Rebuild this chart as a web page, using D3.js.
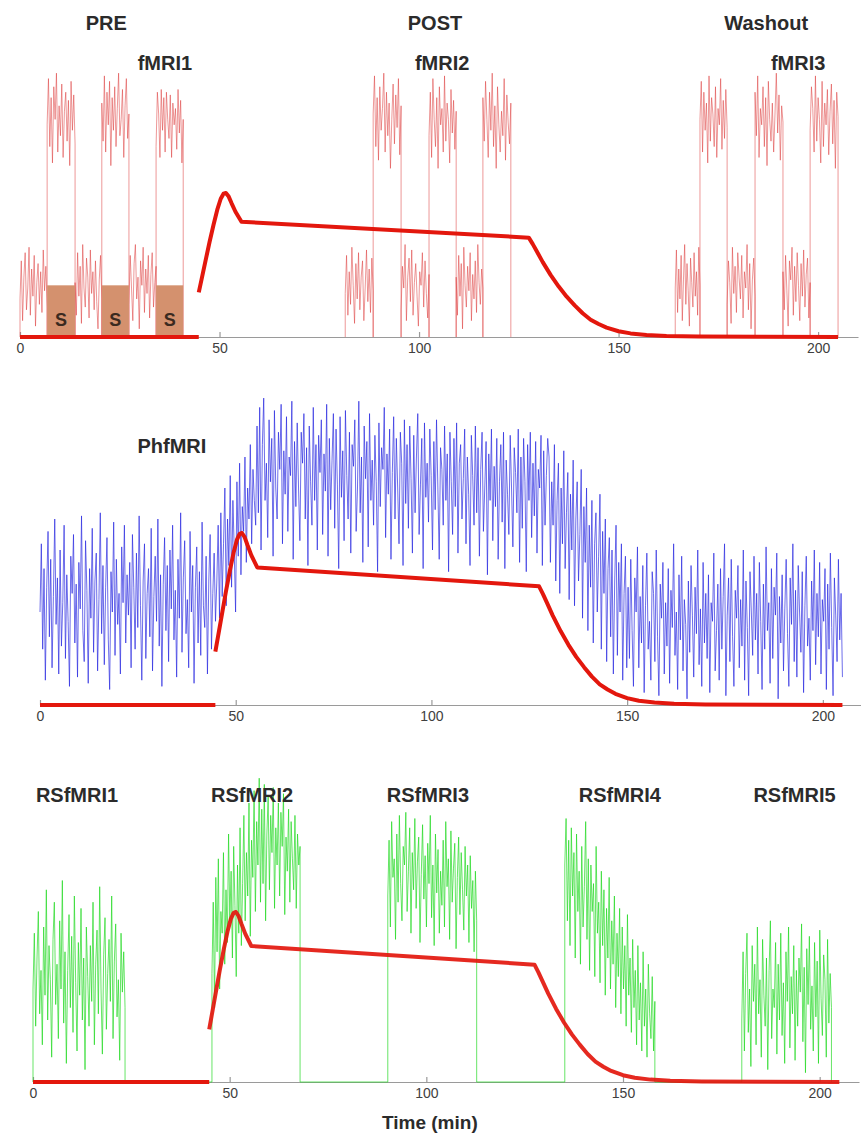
<!DOCTYPE html>
<html lang="en">
<head>
<meta charset="UTF-8">
<title>fMRI / PhfMRI / RSfMRI timeline</title>
<script src="https://d3js.org/d3.v7.min.js"></script>
<style>
  body { margin: 0; background: #fff; }
  svg { display: block; }
  .lbl { font-family: "Liberation Sans", Arial, sans-serif; font-weight: bold; font-size: 20px; fill: #2b2b2b; text-anchor: middle; }
  .axis text { font-family: "Liberation Sans", Arial, sans-serif; font-size: 14px; fill: #404040; }
  .axis path, .axis line { stroke: #9a9a9a; stroke-width: 1.2; }
</style>
</head>
<body>
<div id="chart"></div>
<script>
// ---------------- data ----------------
const tickValues = [0, 50, 100, 150, 200];

// drug concentration (normalised to peak), shared by all three panels
const pkBaseEnd = 44.8;
const pkTime = [44.8, 45.5, 46.5, 47.5, 48.5, 49.5, 50.3, 51, 51.6, 52.3, 53, 54, 55.5,
  127.5, 128.5, 129.5, 131, 133, 135, 137, 139, 141, 143, 145, 147, 150, 153, 157, 162, 170, 185, 205];
const pkConc = [0.31, 0.40, 0.53, 0.66, 0.78, 0.89, 0.96, 0.995, 1.0, 0.975, 0.93, 0.87, 0.80,
  0.69, 0.645, 0.595, 0.52, 0.43, 0.35, 0.28, 0.22, 0.165, 0.12, 0.09, 0.065, 0.04, 0.025, 0.014, 0.007, 0.003, 0.001, 0];

// task fMRI: block edges (min) and signal per block (a.u.), rest / stim alternating
const fmri1Edges = [0, 6.8, 13.8, 20.5, 27.3, 34.1, 40.9];
const fmri1Blocks = [
  [14, 28, 6, 22, 31, 10, 18, 33, 8, 25, 15, 30, 4, 20, 27, 12, 24, 9, 32, 17, 26, 11],
  [78, 95, 70, 88, 64, 92, 80, 97, 68, 85, 74, 93, 66, 83, 90, 72, 87, 63, 94, 76, 89, 71],
  [20, 8, 31, 15, 26, 5, 34, 18, 11, 29, 22, 7, 32, 16, 24, 10, 28, 13, 3, 21, 30, 14],
  [86, 72, 96, 68, 90, 78, 94, 63, 88, 76, 92, 70, 84, 97, 74, 80, 91, 66, 85, 95, 73, 82],
  [12, 30, 18, 6, 27, 34, 14, 22, 3, 28, 19, 33, 9, 25, 16, 30, 7, 23, 31, 11, 20, 26],
  [70, 90, 82, 66, 91, 76, 88, 68, 90, 80, 73, 89, 66, 86, 78, 84, 69, 91, 75, 87, 64, 80]
];
const fmri2Edges = [81.5, 88.5, 95.5, 102.5, 109.3, 116, 123];
const fmri2Blocks = [
  [16, 30, 8, 24, 12, 33, 19, 5, 27, 14, 31, 10, 22, 28, 6, 18, 32, 13, 25, 9, 29, 17],
  [82, 96, 70, 88, 65, 92, 76, 84, 97, 68, 90, 74, 86, 62, 80, 93, 71, 89, 77, 95, 67, 85],
  [10, 26, 18, 34, 6, 22, 29, 13, 32, 8, 20, 27, 15, 4, 24, 19, 31, 11, 28, 16, 7, 23],
  [74, 90, 66, 95, 80, 70, 88, 62, 92, 78, 84, 68, 96, 72, 86, 80, 64, 91, 75, 87, 69, 83],
  [22, 8, 30, 15, 27, 3, 33, 19, 11, 26, 17, 31, 6, 23, 14, 28, 9, 34, 20, 12, 25, 18],
  [88, 72, 94, 80, 66, 90, 76, 97, 70, 85, 62, 92, 78, 68, 83, 74, 95, 65, 89, 79, 71, 86]
];
const fmri3Edges = [164.2, 170.4, 177.2, 184.2, 191.2, 198, 205];
const fmri3Blocks = [
  [18, 32, 9, 25, 14, 30, 6, 21, 34, 12, 27, 17, 4, 29, 20, 11, 31, 15, 24, 8, 33, 19],
  [80, 94, 68, 90, 76, 86, 64, 96, 72, 88, 82, 70, 92, 66, 84, 78, 95, 69, 87, 73, 91, 77],
  [12, 28, 20, 5, 33, 16, 26, 9, 31, 22, 14, 30, 7, 24, 18, 34, 10, 27, 3, 21, 29, 15],
  [90, 74, 96, 66, 84, 78, 92, 70, 88, 63, 94, 80, 72, 86, 68, 82, 97, 75, 89, 65, 85, 79],
  [24, 10, 30, 17, 4, 28, 21, 33, 8, 26, 13, 31, 19, 6, 27, 15, 32, 11, 23, 29, 7, 20],
  [76, 92, 84, 68, 96, 72, 88, 80, 64, 94, 70, 86, 78, 91, 67, 83, 93, 71, 87, 62, 90, 81]
];
// stimulation periods ("S") during fMRI1
const stimBlocks = [[6.8, 13.8], [20.5, 27.3], [34.1, 40.9]];
const stimLevel = 19;

// PhfMRI: continuous acquisition from 0 to 205 min (a.u.)
const phStart = 0, phEnd = 205;
const phValues = [
  // baseline
  30, 52, 18, 44, 8, 38, 56, 22, 47, 12, 35, 60,
  26, 41, 10, 50, 19, 33, 58, 15, 42, 27, 6, 48,
  36, 55, 20, 39, 9, 46, 31, 61, 24, 14, 53, 37,
  7, 44, 28, 57, 17, 40, 49, 11, 34, 62, 23, 45,
  13, 38, 54, 21, 5, 43, 30, 59, 16, 47, 26, 36,
  10, 51, 33, 58, 20, 42, 29, 46, 12, 55, 38, 18,
  49, 25, 61, 32, 8, 40, 52, 15, 36, 44, 22, 57,
  11, 35, 48, 27, 60, 19, 42, 6, 39, 54, 24, 45,
  14, 50, 31, 58, 21, 37, 9, 47, 28, 62, 17, 41,
  53, 23, 34, 12, 56, 30, 45, 7, 38, 51, 20, 43,
  16, 59, 32, 25, 48, 10, 40, 55, 18, 36, 49, 27,
  // rise
  40, 58, 28, 62, 35, 52, 70, 32, 60, 45, 74, 38, 66, 50, 30,
  72, 48, 78, 42, 64, 56, 80, 46, 70, 60, 84, 52, 76, 66,
  // post
  58, 90, 62, 96, 50, 84, 99, 66, 78, 54, 92, 72,
  86, 48, 95, 70, 60, 88, 76, 97, 52, 82, 68, 93,
  56, 80, 74, 98, 47, 85, 64, 91, 70, 53, 88, 78,
  94, 60, 83, 45, 90, 72, 58, 96, 66, 84, 50, 87,
  75, 92, 55, 81, 69, 97, 48, 86, 63, 79, 94, 57,
  89, 71, 44, 93, 67, 82, 53, 95, 74, 60, 88, 49,
  84, 77, 92, 56, 70, 98, 62, 80, 46, 90, 73, 85,
  51, 94, 66, 79, 58, 87, 72, 43, 91, 64, 83, 76,
  96, 54, 81, 68, 89, 47, 75, 93, 60, 86, 70, 52,
  88, 78, 45, 92, 65, 84, 57, 90, 73, 49, 87, 62,
  80, 94, 55, 71, 86, 44, 91, 67, 78, 59, 89, 74,
  50, 85, 63, 92, 70, 47, 83, 76, 58, 90, 66, 81,
  43, 88, 72, 55, 86, 64, 91, 49, 78, 84, 60, 73,
  89, 52, 80, 68, 45, 87, 74, 58, 90, 62, 83, 48,
  76, 88, 56, 70, 85, 42, 81, 66, 89, 53, 77, 64,
  86, 47, 72, 84, 59, 88, 44, 79, 68, 55, 87, 70,
  51, 83, 75, 62, 89, 46, 80, 57, 86, 72, 43, 84,
  66, 88, 54, 78, 61, 85, 49, 76, 70, 87, 45, 82,
  58, 74, 86,
  // decline
  80, 46, 72, 58, 84, 40, 66, 78, 36, 70, 52, 82,
  44, 62, 75, 34, 68, 50, 79, 32, 60, 72, 40, 55,
  76, 28, 64, 46, 70, 24, 58, 38, 66, 20, 52, 62,
  30, 48, 68, 18, 56, 36, 60, 14, 44, 54, 22, 50,
  10, 40, 58, 16, 46, 30, 52, 8, 36, 48, 12,
  // washout
  38, 15, 47, 24, 6, 41, 30, 51, 12, 35, 20, 45,
  4, 32, 49, 18, 27, 8, 43, 36, 14, 50, 22, 3,
  39, 28, 46, 10, 33, 19, 44, 7, 37, 25, 52, 16,
  30, 5, 42, 21, 48, 11, 34, 26, 2, 40, 17, 45,
  29, 9, 38, 23, 50, 13, 31, 6, 46, 20, 36, 15,
  42, 4, 33, 27, 49, 11, 24, 39, 8, 44, 18, 35,
  52, 3, 29, 41, 14, 47, 22, 6, 37, 28, 45, 12,
  34, 19, 50, 8, 40, 25, 3, 43, 30, 16, 48, 21,
  36, 10, 46, 27, 5, 39, 18, 51, 24, 33, 7, 44,
  15, 38, 29, 49, 2, 35, 20, 42, 11, 31, 47, 23,
  6, 41, 26, 52, 14, 37, 9, 45, 30, 17, 43, 4,
  32, 48, 19, 28, 8, 40, 24, 50, 13, 36, 22, 46,
  10, 34, 27, 44, 5, 39, 18, 49, 25, 3, 41, 29,
  14, 47, 21, 36, 9
];

// resting-state scans: start/end (min) and signal (a.u.)
const rsEdges = [[0, 23.4], [45.5, 67.9], [90.2, 112.8], [135.2, 158.1], [180.2, 203]];
const rs1 = [30, 48, 18, 40, 55, 22, 36, 12, 50, 28, 62, 20, 44, 33, 8, 46, 58, 25, 38, 14,
  52, 30, 65, 19, 42, 6, 36, 54, 24, 47, 16, 60, 32, 10, 45, 28, 56, 20, 40, 4,
  50, 34, 18, 44, 26, 58, 12, 38, 49, 22, 63, 30, 9, 41, 53, 17, 35, 46, 26, 60,
  14, 39, 51, 21, 33, 7, 48, 29, 42, 24];
const rs2 = [35, 58, 24, 66, 42, 72, 30, 55, 48, 74, 38, 62, 45, 80, 52, 68, 40, 76, 57, 34,
  70, 48, 82, 44, 64, 86, 52, 74, 60, 90, 47, 78, 66, 94, 55, 84, 70, 98, 58, 88,
  64, 96, 52, 80, 92, 62, 86, 74, 95, 56, 82, 70, 90, 60, 87, 76, 93, 54, 79, 68,
  88, 58, 84, 72, 62, 86, 56, 80, 70, 76];
const rs3 = [60, 78, 50, 84, 66, 72, 46, 80, 58, 86, 64, 52, 76, 70, 87, 55, 68, 82, 48, 74,
  62, 85, 56, 71, 79, 45, 67, 83, 59, 73, 50, 77, 64, 86, 53, 70, 44, 80, 61, 75,
  48, 68, 57, 78, 50, 84, 63, 72, 46, 81, 58, 69, 77, 43, 66, 79, 54, 74, 62, 49,
  76, 60, 70, 45, 73, 56, 65, 42, 68, 52];
const rs4 = [70, 85, 52, 78, 44, 82, 60, 74, 40, 80, 55, 68, 38, 76, 50, 63, 84, 46, 72, 36,
  70, 55, 64, 34, 76, 48, 58, 32, 68, 44, 62, 28, 56, 40, 66, 30, 52, 38, 60, 24,
  48, 34, 56, 22, 50, 30, 44, 18, 54, 28, 40, 16, 46, 24, 36, 12, 44, 20, 32, 10,
  42, 18, 30, 8, 38, 22, 14, 34, 10, 26];
const rs5 = [20, 42, 10, 35, 48, 16, 30, 5, 44, 26, 38, 12, 50, 22, 33, 8, 46, 28, 18, 40,
  4, 36, 52, 14, 30, 24, 45, 9, 38, 20, 48, 15, 32, 6, 42, 26, 50, 11, 34, 22,
  44, 7, 36, 18, 40, 29, 51, 13, 37, 3, 43, 25, 47, 17, 31, 10, 45, 21, 39, 6,
  49, 27, 15, 41, 33, 8, 46, 19, 35, 24];
const rsScans = [rs1, rs2, rs3, rs4, rs5];

// text labels (time at label centre)
const phaseLabels = [["PRE", 21.6], ["POST", 104], ["Washout", 187]];
const fmriLabels = [["fMRI1", 36.3], ["fMRI2", 105.8], ["fMRI3", 195]];
const phLabel = ["PhfMRI", 33.7];
const rsLabels = [["RSfMRI1", 11.2], ["RSfMRI2", 55.7], ["RSfMRI3", 100.4], ["RSfMRI4", 149.2], ["RSfMRI5", 193.6]];

// ---------------- drawing ----------------
const width = 861, height = 1138;
const svg = d3.select("#chart").append("svg")
  .attr("width", width).attr("height", height);

const red = "#e3170d";

// one panel: x scale, signal scale, drug scale
const panels = [
  { x: d3.scaleLinear([0, 210], [20, 858]), y: d3.scaleLinear([0, 100], [337, 65]), pk: d3.scaleLinear([0, 1], [337, 193]) },
  { x: d3.scaleLinear([0, 210], [40, 862]), y: d3.scaleLinear([0, 100], [705, 395]), pk: d3.scaleLinear([0, 1], [705, 533]) },
  { x: d3.scaleLinear([0, 210], [33, 859]), y: d3.scaleLinear([0, 100], [1082, 772]), pk: d3.scaleLinear([0, 1], [1082, 912]) }
];

function drawAxis(p) {
  svg.append("g")
    .attr("class", "axis")
    .attr("transform", `translate(0,${p.y(0)})`)
    .call(d3.axisBottom(p.x).tickValues(tickValues).tickSizeInner(-5).tickSizeOuter(0).tickPadding(6))
    .call(g => g.selectAll(".tick text").attr("dy", "0.72em"));
}

function drawPK(p, opacity) {
  const line = d3.line().x(d => p.x(d[0])).y(d => p.pk(d[1]));
  svg.append("path")
    .attr("d", line([[0, 0], [pkBaseEnd, 0]]))
    .attr("fill", "none").attr("stroke", red).attr("stroke-width", 4.2);
  svg.append("path")
    .attr("d", line(pkTime.map((t, i) => [t, pkConc[i]])))
    .attr("fill", "none").attr("stroke", red).attr("stroke-width", 4)
    .attr("stroke-linejoin", "round").attr("opacity", opacity);
}

// samples spread over each block, with the trace dropping to zero at the edges
function blockPoints(edges, blocks) {
  const pts = [];
  blocks.forEach((vals, b) => {
    const t0 = edges[b], t1 = edges[b + 1];
    pts.push([t0, 0]);
    vals.forEach((v, i) => pts.push([t0 + (t1 - t0) * i / (vals.length - 1), v]));
    pts.push([t1, 0]);
  });
  return pts;
}

// ---- panel 1: task fMRI ----
const p1 = panels[0];
drawAxis(p1);
const line1 = d3.line().x(d => p1.x(d[0])).y(d => p1.y(d[1]));
[[fmri1Edges, fmri1Blocks], [fmri2Edges, fmri2Blocks], [fmri3Edges, fmri3Blocks]].forEach(([e, b]) => {
  svg.append("path")
    .attr("d", line1(blockPoints(e, b)))
    .attr("fill", "none").attr("stroke", "#dc3a3a")
    .attr("stroke-width", 0.7).attr("opacity", 0.75);
});
svg.append("g").selectAll("rect")
  .data(stimBlocks)
  .join("rect")
  .attr("x", d => p1.x(d[0]))
  .attr("width", d => p1.x(d[1]) - p1.x(d[0]))
  .attr("y", p1.y(stimLevel))
  .attr("height", p1.y(0) - p1.y(stimLevel))
  .attr("fill", "#d4916e");
svg.append("g").selectAll("text")
  .data(stimBlocks)
  .join("text")
  .attr("class", "lbl")
  .attr("x", d => p1.x((d[0] + d[1]) / 2))
  .attr("y", 326)
  .style("font-size", "18px")
  .style("fill", "#3b2a20")
  .text("S");
drawPK(p1, 1);
svg.append("g").selectAll("text")
  .data(phaseLabels).join("text")
  .attr("class", "lbl").attr("x", d => p1.x(d[1])).attr("y", 30).text(d => d[0]);
svg.append("g").selectAll("text")
  .data(fmriLabels).join("text")
  .attr("class", "lbl").attr("x", d => p1.x(d[1])).attr("y", 70).text(d => d[0]);

// ---- panel 2: PhfMRI ----
const p2 = panels[1];
drawAxis(p2);
const dt = (phEnd - phStart) / (phValues.length - 1);
svg.append("path")
  .attr("d", d3.line().x((d, i) => p2.x(phStart + i * dt)).y(d => p2.y(d))(phValues))
  .attr("fill", "none").attr("stroke", "#2626e0")
  .attr("stroke-width", 0.8).attr("opacity", 0.85);
drawPK(p2, 1);
svg.append("text").attr("class", "lbl")
  .attr("x", p2.x(phLabel[1])).attr("y", 453).text(phLabel[0]);

// ---- panel 3: RSfMRI ----
const p3 = panels[2];
drawAxis(p3);
const rsPts = [];
rsScans.forEach((vals, s) => {
  const [t0, t1] = rsEdges[s];
  rsPts.push([t0, 0]);
  vals.forEach((v, i) => rsPts.push([t0 + (t1 - t0) * i / (vals.length - 1), v]));
  rsPts.push([t1, 0]);
});
svg.append("path")
  .attr("d", d3.line().x(d => p3.x(d[0])).y(d => p3.y(d[1]))(rsPts))
  .attr("fill", "none").attr("stroke", "#1ed81e")
  .attr("stroke-width", 0.8).attr("opacity", 0.85);
drawPK(p3, 0.92);
svg.append("g").selectAll("text")
  .data(rsLabels).join("text")
  .attr("class", "lbl").attr("x", d => p3.x(d[1])).attr("y", 802).text(d => d[0]);
svg.append("text").attr("class", "lbl")
  .attr("x", p3.x(100.9)).attr("y", 1129).style("font-size", "19px").text("Time (min)");
</script>
</body>
</html>
